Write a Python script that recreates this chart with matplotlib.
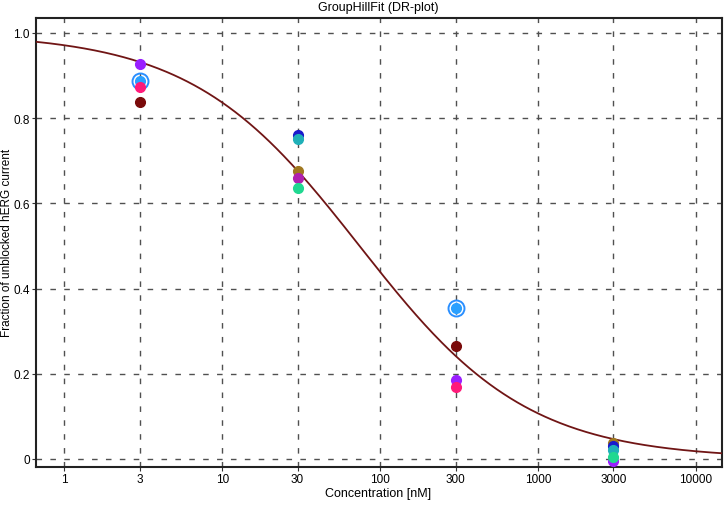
import numpy as np
import matplotlib
matplotlib.use("Agg")
import matplotlib.pyplot as plt

plt.rcParams['font.family'] = ['Liberation Sans', 'DejaVu Sans']

# Data
conc_ticks = [1, 3, 10, 30, 100, 300, 1000, 3000, 10000]
conc_tick_labels = ["1", "3", "10", "30", "100", "300", "1000", "3000", "10000"]
y_ticks = [0, 0.2, 0.4, 0.6, 0.8, 1.0]
y_tick_labels = ["0", "0.2", "0.4", "0.6", "0.8", "1.0"]

# Individual cells: (color, concentrations, fractions)
cells = [
    ("#9a1fff", [3, 300, 3000], [0.926, 0.185, -0.004]),
    ("#ff1a7a", [3, 300], [0.872, 0.168]),
    ("#7a0a0a", [3, 300], [0.837, 0.265]),
    ("#a07820", [30, 3000], [0.676, 0.038]),
    ("#1a1acc", [30, 3000], [0.760, 0.031]),
    ("#1fb0b8", [30, 3000], [0.750, 0.022]),
    ("#b020b0", [30], [0.660]),
    ("#1fd890", [30, 3000], [0.635, 0.004]),
]

mean_conc = [3, 300]
mean_vals = [0.887, 0.355]
mean_err = [0.012, 0.014]

# Hill fit parameters
ic50 = 74.0
hill_n = 0.816

fig = plt.figure(figsize=(7.26, 5.06), dpi=100)
ax = fig.add_axes([36/726, 1-468/506, (722-36)/726, (468-19)/506])
ax.set_xscale('log')
ax.set_xlim(0.662, 14600)
ax.set_ylim(-0.019, 1.035)

# grid
for t in conc_ticks:
    ax.axvline(t, color='#505050', lw=1.0, ls=(0, (4, 6)), zorder=1)
for t in y_ticks:
    ax.axhline(t, color='#505050', lw=1.0, ls=(0, (4, 6)), zorder=1)

xs = np.logspace(np.log10(0.662), np.log10(14600), 400)
ys = 1.0 / (1.0 + (xs / ic50) ** hill_n)
ax.plot(xs, ys, color='#701515', lw=1.3, zorder=3)

ax.errorbar(mean_conc, mean_vals, yerr=mean_err, fmt='none', ecolor='#2a8fff', elinewidth=1, zorder=4)
ax.plot(mean_conc, mean_vals, 'o', ms=11.5, mfc='none', mec='#2a8fff', mew=1.4, zorder=4, ls='none')
ax.plot(mean_conc, mean_vals, 'o', ms=7, color='#2aa0ff', mec='#2aa0ff', zorder=4, ls='none')

for color, cx, cy in cells:
    ax.plot(cx, cy, 'o', color=color, ms=7, mec=color, zorder=5, ls='none')

ax.set_xticks(conc_ticks)
ax.set_xticklabels(conc_tick_labels)
ax.xaxis.set_minor_locator(matplotlib.ticker.NullLocator())
ax.set_yticks(y_ticks)
ax.set_yticklabels(y_tick_labels)
ax.tick_params(axis='both', labelsize=8.5, length=3, width=0.8, direction='out', color='#333333', pad=1.5)

for s in ax.spines.values():
    s.set_linewidth(1.5)
    s.set_color('#222222')

fig.text(378/726, 1-494/506, "Concentration [nM]", ha='center', va='center', fontsize=9)
fig.text(7.5/726, 1-243/506, "Fraction of unblocked hERG current", ha='center', va='center',
         rotation=90, fontsize=8.5)
fig.text(378/726, 1-8/506, "GroupHillFit (DR-plot)", ha='center', va='center', fontsize=9)

fig.savefig("out.png", dpi=100)
